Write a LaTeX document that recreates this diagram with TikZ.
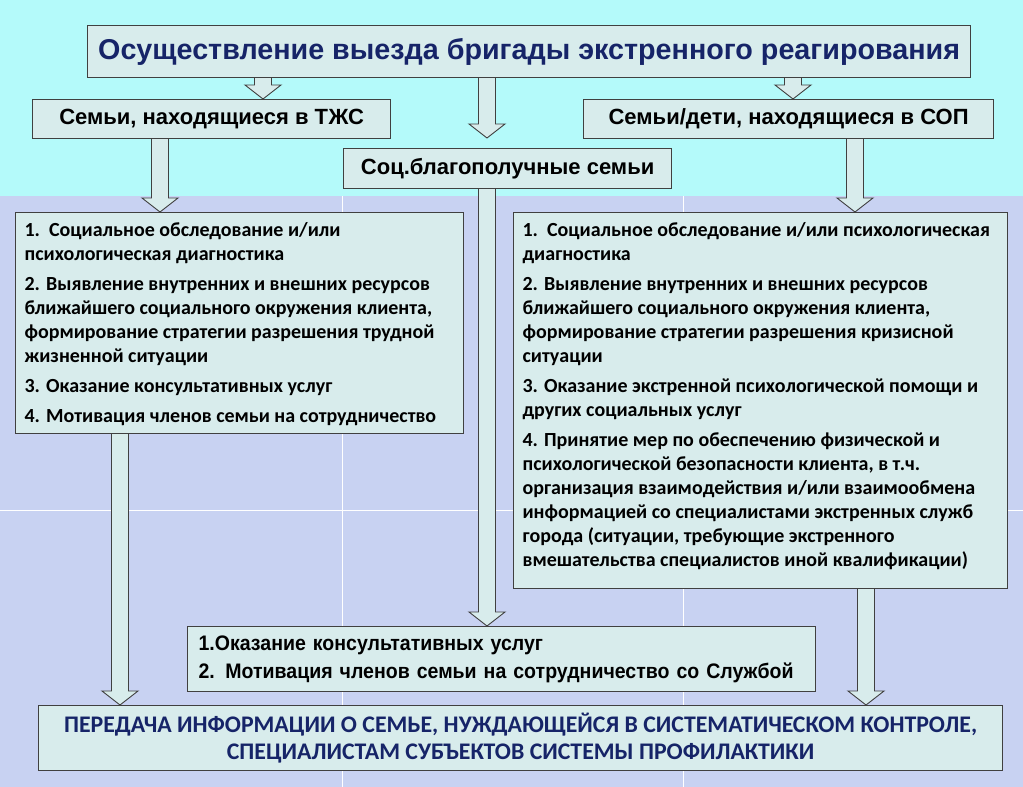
\documentclass[tikz,border=0pt]{standalone}
\usepackage{fontspec}
\setmainfont{Liberation Sans}
\newfontfamily\calfont{Carlito}
\newfontfamily\narrowfont[FakeStretch=0.93]{Liberation Sans}
\usetikzlibrary{calc}
\definecolor{bandcyan}{RGB}{180,250,250}
\definecolor{bglav}{RGB}{200,210,242}
\definecolor{boxfill}{RGB}{216,236,236}
\definecolor{boxline}{RGB}{64,64,64}
\definecolor{navy}{RGB}{22,36,104}
\tikzstyle{box} = [draw=boxline, line width=1.2pt, fill=boxfill, anchor=north west, inner sep=0pt]
\tikzstyle{barrow} = [draw=boxline, line width=0.9pt, fill=boxfill, line join=miter]
% block arrow: x position, start anchor, tip anchor
\newcommand{\blockarrow}[3]{%
  \filldraw[barrow] let \p1=(#2), \p2=(#3) in
    ({#1pt-8.5pt},\y1) -- ({#1pt-8.5pt},{\y2+14pt}) -- ({#1pt-18pt},{\y2+14pt})
    -- (#1pt,\y2) -- ({#1pt+18pt},{\y2+14pt}) -- ({#1pt+8.5pt},{\y2+14pt}) -- ({#1pt+8.5pt},\y1);}

\begin{document}
\begin{tikzpicture}[x=1pt, y=-1pt]
	\useasboundingbox (0,0) rectangle (1023,787);
	% background
	\fill[bandcyan] (0,0) rectangle (1023,196);
	\fill[bglav] (0,196) rectangle (1023,787);
	\draw[white, line width=0.8pt] (342,196) -- (342,787) (683,196) -- (683,787) (0,510) -- (1023,510);

	\node[box, minimum width=883pt, minimum height=52pt, text=navy, font=\fontsize{28.7}{33}\selectfont\bfseries] (title) at (87,25) {Осуществление выезда бригады экстренного реагирования};
	\node[box, minimum width=358pt, minimum height=39pt, font=\fontsize{22}{26}\selectfont\bfseries] (tjs) at (32,99) {Семьи, находящиеся в ТЖС};
	\node[box, minimum width=410pt, minimum height=39pt, font=\fontsize{22}{26}\selectfont\bfseries] (sop) at (583,99) {Семьи/дети, находящиеся в СОП};
	\node[box, minimum width=328pt, minimum height=40pt, font=\fontsize{22}{26}\selectfont\bfseries] (soc) at (343,148) {Соц.благополучные семьи};

	\node[box] (left) at (15,212) {\begin{minipage}[t][221pt][t]{448pt}\calfont\bfseries\fontsize{20}{24}\selectfont
		\leftskip=9pt\rightskip=0pt plus 1fil\parindent=0pt\parskip=6pt
		\vspace{10pt}
		1.\ \ Социальное обследование и/или\\ психологическая диагностика\par
		2. Выявление внутренних и внешних ресурсов\\ ближайшего социального окружения клиента,\\ формирование стратегии разрешения трудной\\ жизненной ситуации\par
		3. Оказание консультативных услуг\par
		4. Мотивация членов семьи на сотрудничество\par
	\end{minipage}};
	\node[box] (right) at (513,212) {\begin{minipage}[t][376pt][t]{494pt}\calfont\bfseries\fontsize{20}{24}\selectfont
		\leftskip=9pt\rightskip=0pt plus 1fil\parindent=0pt\parskip=6pt
		\vspace{10pt}
		1.\ \ Социальное обследование и/или психологическая\\ диагностика\par
		2. Выявление внутренних и внешних ресурсов\\ ближайшего социального окружения клиента,\\ формирование стратегии разрешения кризисной\\ ситуации\par
		3. Оказание экстренной психологической помощи и\\ других социальных услуг\par
		4. Принятие мер по обеспечению физической и\\ психологической безопасности клиента, в т.ч.\\ организация взаимодействия и/или взаимообмена\\ информацией со специалистами экстренных служб\\ города (ситуации, требующие экстренного\\ вмешательства специалистов иной квалификации)\par
	\end{minipage}};
	\node[box, minimum width=628pt, minimum height=65pt, align=left, text width=606pt, inner xsep=11pt, font=\narrowfont\bfseries\fontsize{21}{28}\selectfont] (mid) at (187,626) {1.Оказание консультативных услуг\\ 2. Мотивация членов семьи на сотрудничество со Службой};
	\node[box, minimum width=964pt, minimum height=65pt, align=center, text=navy, font=\calfont\bfseries\fontsize{23.8}{27}\selectfont] (final) at (38,705) {ПЕРЕДАЧА ИНФОРМАЦИИ О СЕМЬЕ, НУЖДАЮЩЕЙСЯ В СИСТЕМАТИЧЕСКОМ КОНТРОЛЕ,\\ СПЕЦИАЛИСТАМ СУБЪЕКТОВ СИСТЕМЫ ПРОФИЛАКТИКИ};

	\blockarrow{263}{title.south}{tjs.north}
	\blockarrow{487}{title.south}{[yshift=10pt]soc.north}
	\blockarrow{793}{title.south}{sop.north}
	\blockarrow{160}{tjs.south}{left.north}
	\blockarrow{855}{sop.south}{right.north}
	\blockarrow{487}{soc.south}{mid.north}
	\blockarrow{120}{left.south}{final.north}
	\blockarrow{866}{right.south}{final.north}
\end{tikzpicture}
\end{document}
